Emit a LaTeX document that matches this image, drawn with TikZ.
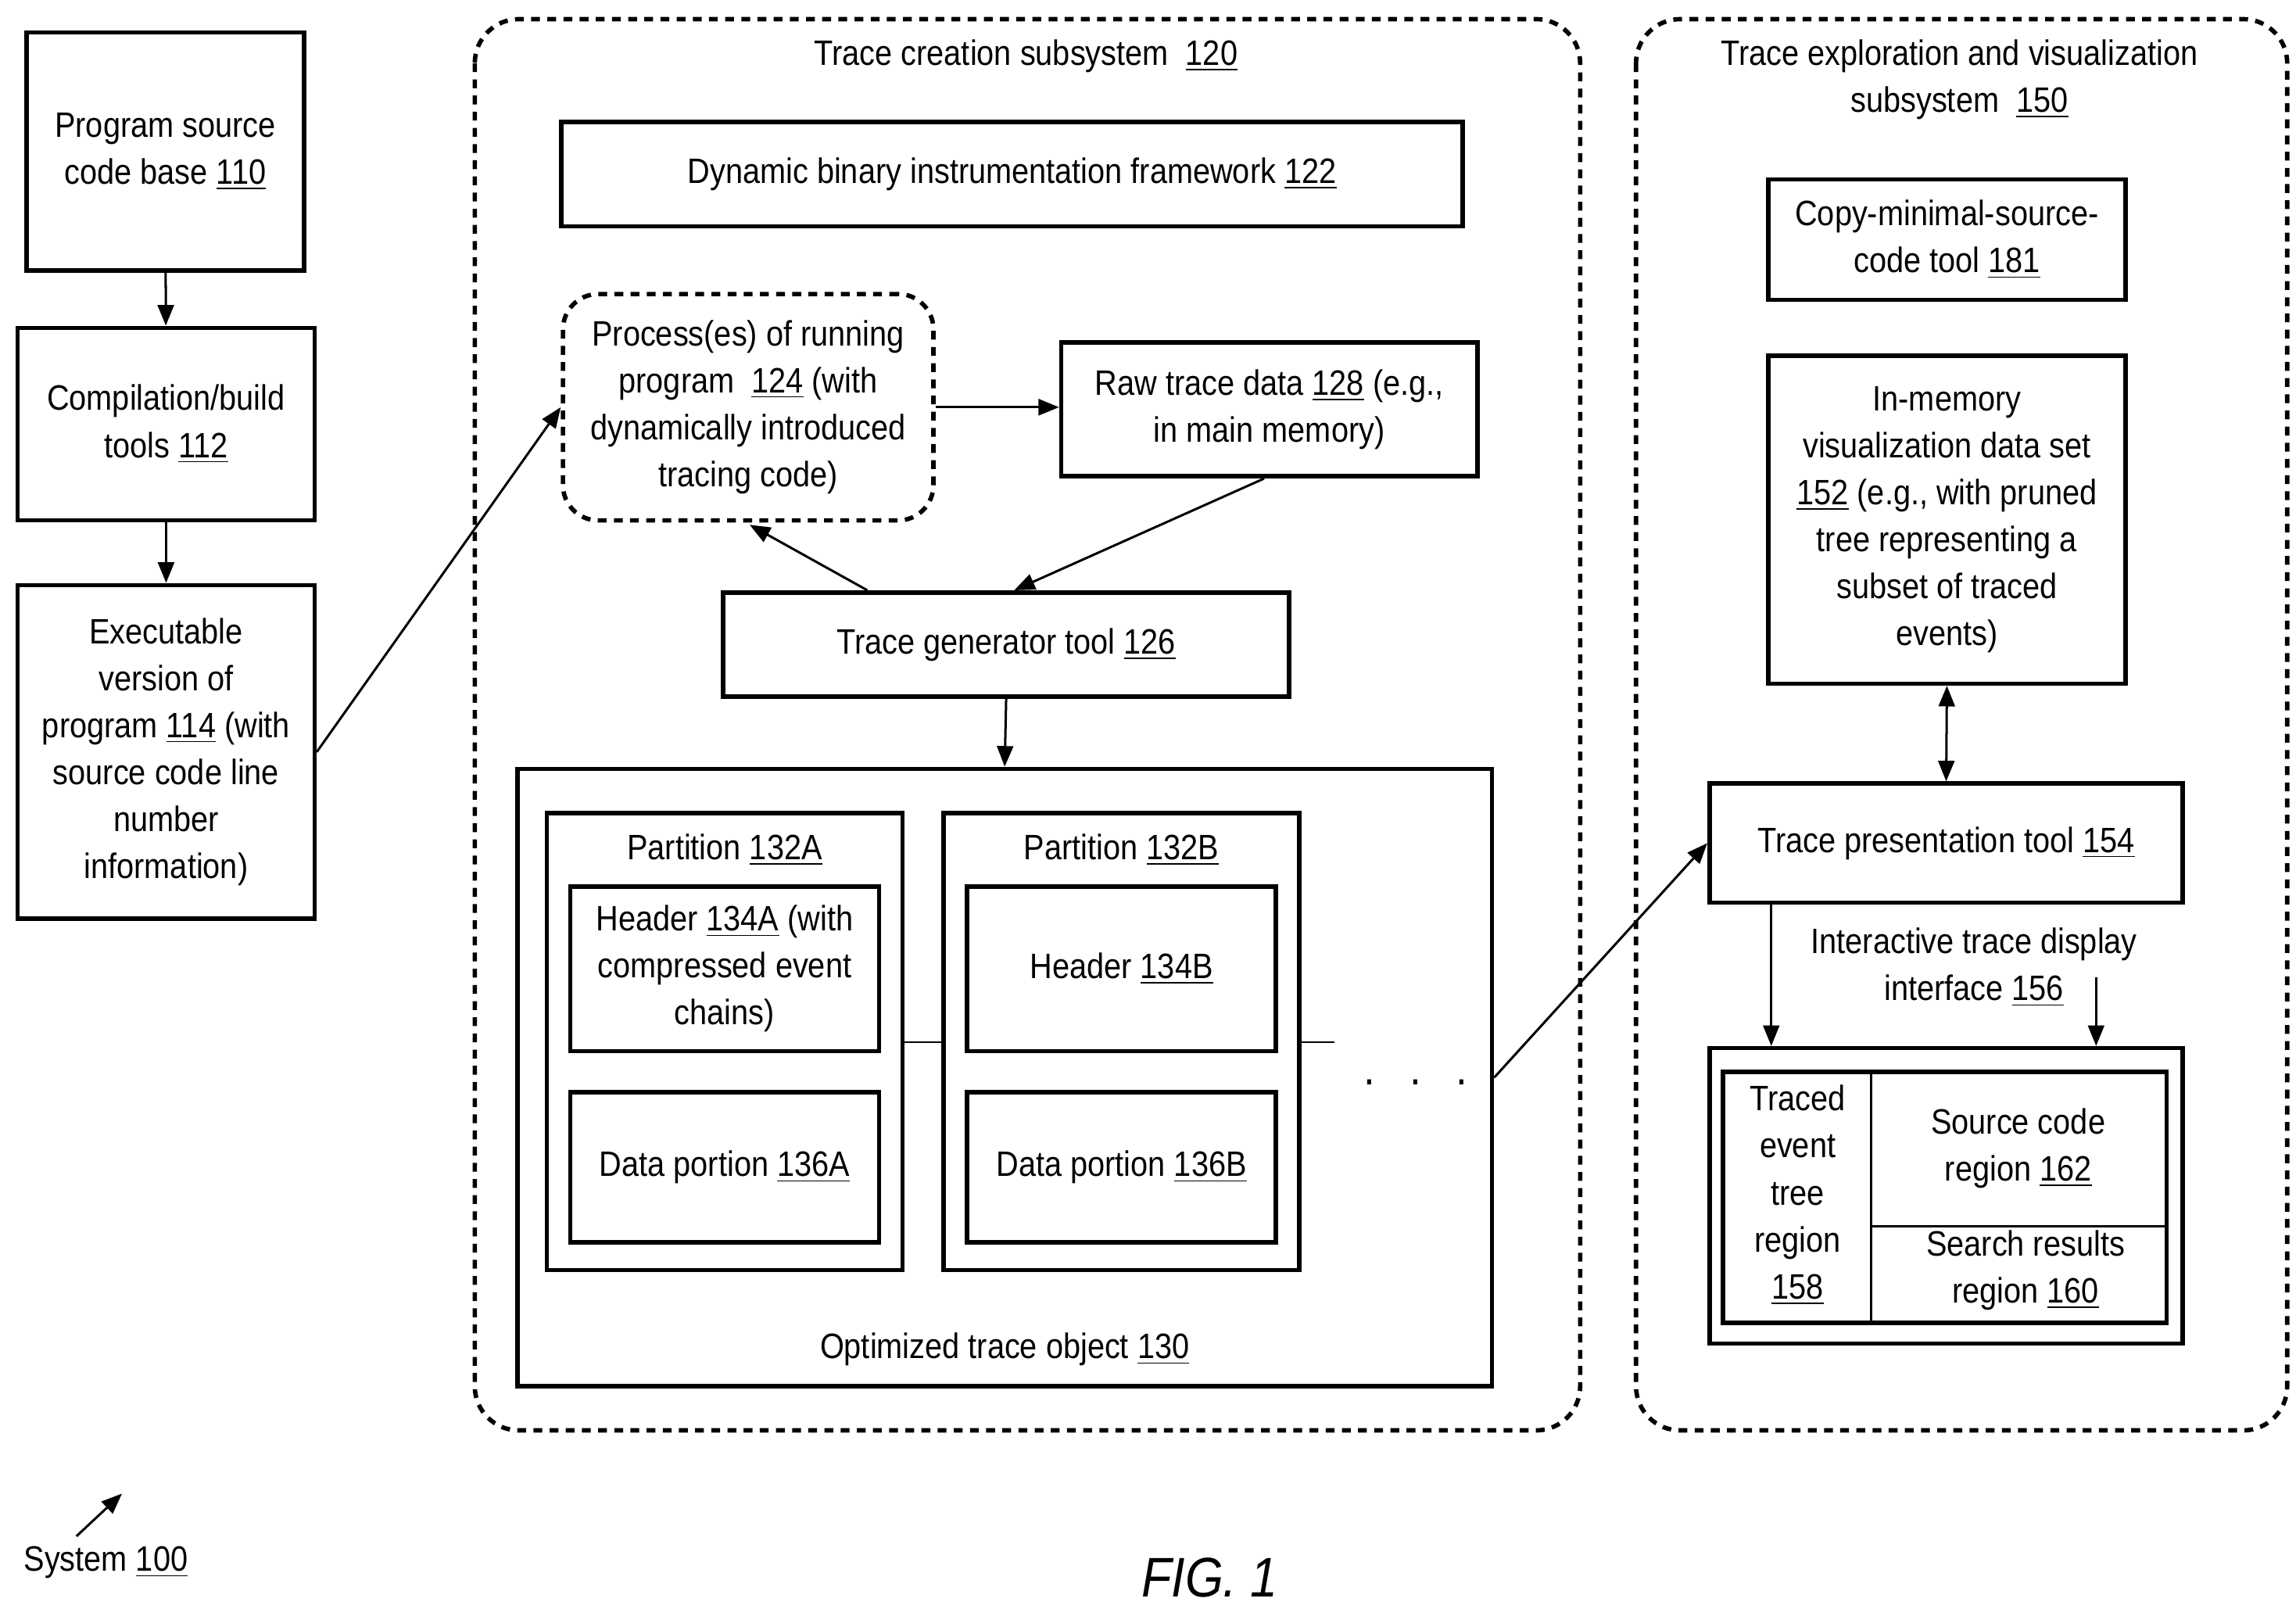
\documentclass[tikz,border=0pt]{standalone}
\usepackage{fontspec}
\setmainfont{Liberation Sans}[FakeStretch=0.88]
\usetikzlibrary{arrows.meta}
\newcommand{\un}[1]{\underline{#1}}
\tikzset{every picture/.style={line width=0.5pt}}
\begin{document}
\begin{tikzpicture}[x=0.5pt,y=0.5pt,yscale=-1,
    box/.style={draw,line width=1.5pt,align=center,inner sep=0pt,font=\fontsize{12}{16}\selectfont},
    lbl/.style={align=center,inner sep=0pt,font=\fontsize{12}{16}\selectfont},
    grp/.style={draw,line width=1.5pt,dash pattern=on 3pt off 2.5pt,rounded corners=15pt},
    arr/.style={-{Triangle[length=7pt,width=5.5pt]},line width=0.8pt}]
    \useasboundingbox (0,0) rectangle (1562,1094);

    %Subsystem containers
    \draw[grp] (323,13) rectangle (1075,973);
    \draw[grp] (1113,13) rectangle (1556,973);
    \node[lbl] (t120) at (698,38) {Trace creation subsystem \ \un{120}};
    \node[lbl] (t150) at (1333,54) {Trace exploration and visualization\\subsystem \ \un{150}};

    %Build chain
    \node[box,minimum width=94.5pt,minimum height=81pt] (n110) at (112.5,103) {Program source\\code base \un{110}};
    \node[box,minimum width=101pt,minimum height=65.5pt] (n112) at (113,288.5) {Compilation/build\\tools \un{112}};
    \node[box,minimum width=101pt,minimum height=113.5pt] (n114) at (113,511.5) {Executable\\version of\\program \un{114} (with\\source code line\\number\\information)};

    %Trace creation
    \node[box,minimum width=306.5pt,minimum height=35.5pt] (n122) at (688.5,118.5) {Dynamic binary instrumentation framework \un{122}};
    \node[box,dash pattern=on 3pt off 2.5pt,rounded corners=12pt,minimum width=126pt,minimum height=77pt] (n124) at (509,277) {Process(es) of running\\program \ \un{124} (with\\dynamically introduced\\tracing code)};
    \node[box,minimum width=141.5pt,minimum height=45.5pt] (n128) at (863.5,278.5) {Raw trace data \un{128} (e.g.,\\in main memory)};
    \node[box,minimum width=192.5pt,minimum height=35.5pt] (n126) at (684.5,438.5) {Trace generator tool \un{126}};
    \node[box,minimum width=331.5pt,minimum height=210pt] (n130) at (683.5,733) {};
    \node[lbl] (t130) at (683.5,918) {Optimized trace object \un{130}};

    %Partitions
    \node[box,minimum width=121pt,minimum height=155.5pt] (n132a) at (493,708.5) {};
    \node[box,minimum width=121pt,minimum height=155.5pt] (n132b) at (763,708.5) {};
    \node[lbl] (t132a) at (493,578) {Partition \un{132A}};
    \node[lbl] (t132b) at (763,578) {Partition \un{132B}};
    \node[box,minimum width=105pt,minimum height=56pt] (n134a) at (493,659) {Header \un{134A} (with\\compressed event\\chains)};
    \node[box,minimum width=105pt,minimum height=51pt] (n136a) at (493,794) {Data portion \un{136A}};
    \node[box,minimum width=105pt,minimum height=56pt] (n134b) at (763,659) {Header \un{134B}};
    \node[box,minimum width=105pt,minimum height=51pt] (n136b) at (763,794) {Data portion \un{136B}};
    \coordinate (pend) at (908,709);
    \draw (n132a.east |- pend) -- (n132b.west |- pend);
    \draw (n132b.east |- pend) -- (pend);
    \node[lbl,font=\fontsize{16}{16}\selectfont] (dots) at (963,736) {.\ \ \ .\ \ \ .};

    %Exploration
    \node[box,minimum width=121.5pt,minimum height=41pt] (n181) at (1324.5,163) {Copy-minimal-source-\\code tool \un{181}};
    \node[box,minimum width=121.5pt,minimum height=111.5pt] (n152) at (1324.5,353.5) {In-memory\\visualization data set\\\un{152} (e.g., with pruned\\tree representing a\\subset of traced\\events)};
    \node[box,minimum width=161pt,minimum height=40.5pt] (n154) at (1324,573.5) {Trace presentation tool \un{154}};
    \node[lbl] (t156) at (1343,658) {Interactive trace display\\interface \un{156}};
    \node[box,minimum width=161pt,minimum height=100.5pt] (n156) at (1324,813.5) {};
    \node[draw,line width=1.5pt,inner sep=0pt,minimum width=151pt,minimum height=85.5pt] (n156i) at (1323,814.5) {};
    \draw[line width=0.8pt] (1273,729) -- (1273,900);
    \draw[line width=0.8pt] (1273,834) -- (1474,834);
    \node[lbl] (n158) at (1223,813) {Traced\\event\\tree\\region\\\un{158}};
    \node[lbl] (n162) at (1373,781) {Source code\\region \un{162}};
    \node[lbl] (n160) at (1378,864) {Search results\\region \un{160}};

    %Connectors
    \draw[arr] (n110) -- (n112);
    \draw[arr] (n112) -- (n114);
    \draw[arr] (n114.east) -- (n124.west);
    \draw[arr] (n124.east |- 0,277) -- (n128.west |- 0,277);
    \draw[arr] (n128.south -| 860,0) -- (n126.north -| 690,0);
    \draw[arr] (n126.north -| 590,0) -- (510,357);
    \draw[arr] (n126.south) -- (n130.north);
    \draw[arr] (n130.east) -- (n154.west);
    \draw[{Triangle[length=7pt,width=5.5pt]}-{Triangle[length=7pt,width=5.5pt]},line width=0.8pt] (n152.south) -- (n154.north);
    \draw[arr] (n154.south -| 1205,0) -- (n156.north -| 1205,0);
    \draw[arr] (1426,665) -- (n156.north -| 1426,0);

    %Labels
    \coordinate (sysa) at (52,1045);
    \coordinate (sysb) at (83,1016);
    \draw[arr] (sysa) -- (sysb);
    \node[lbl] (t100) at (72,1063) {System \un{100}};
    \node[lbl,font=\fontsize{19}{20}\itshape] (fig) at (823,1073) {FIG. 1};
\end{tikzpicture}
\end{document}
